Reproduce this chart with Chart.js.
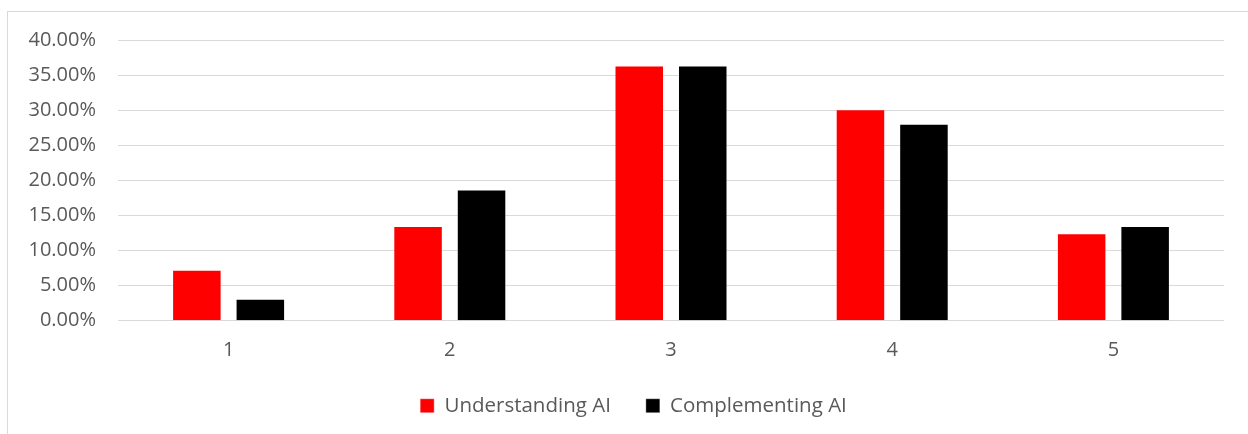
<!DOCTYPE html>
<html>
<head>
<meta charset="utf-8">
<script src="https://cdn.jsdelivr.net/npm/chart.js@4"></script>
<style>
  html, body { margin: 0; padding: 0; background: #ffffff; overflow: hidden; }
  body { width: 1248px; height: 434px; position: relative; }
  #frame {
    position: absolute; left: 7px; top: 11px;
    width: 1241px; height: 423px;
    border-left: 1px solid #d9d9d9; border-top: 1px solid #d9d9d9;
    overflow: hidden;
  }
  #chart { display: block; }
</style>
</head>
<body>
<div id="frame"><canvas id="chart" width="1240" height="414"></canvas></div>
<script>
// Response categories (rating 1–5)
const categories = ['1', '2', '3', '4', '5'];
// Share of respondents per rating, in percent
const understandingAI = [7.29, 13.54, 36.46, 30.21, 12.50];
const complementingAI = [3.13, 18.75, 36.46, 28.13, 13.54];
// Y axis range and step, in percent
const yMin = 0;
const yMax = 40;
const yStep = 5;

const textColor = '#595959';
const gridColor = '#d9d9d9';
const fontFamily = '"Open Sans", "Liberation Sans", sans-serif';

// Nudge the bottom legend a little to the right of the canvas centre
const legendOffset = {
  id: 'legendOffset',
  afterLayout(chart) {
    const lg = chart.legend;
    if (!lg) return;
    lg.left += 17.5;
    lg.right += 17.5;
  }
};

new Chart(document.getElementById('chart'), {
  type: 'bar',
  data: {
    labels: categories,
    datasets: [
      {
        label: 'Understanding AI',
        data: understandingAI,
        backgroundColor: '#ff0000',
        borderColor: 'rgba(255,255,255,0.35)',
        borderWidth: 1,
        categoryPercentage: 0.574,
        barPercentage: 0.78
      },
      {
        label: 'Complementing AI',
        data: complementingAI,
        backgroundColor: '#000000',
        borderColor: 'rgba(255,255,255,0.35)',
        borderWidth: 1,
        categoryPercentage: 0.574,
        barPercentage: 0.78
      }
    ]
  },
  plugins: [legendOffset],
  options: {
    responsive: false,
    animation: false,
    layout: { padding: { top: 28.7, right: 24, bottom: 0, left: 0 } },
    plugins: {
      tooltip: { enabled: false },
      legend: {
        position: 'bottom',
        labels: {
          boxWidth: 14,
          boxHeight: 14,
          padding: 35,
          color: textColor,
          font: { family: fontFamily, size: 20.5 }
        }
      }
    },
    scales: {
      x: {
        grid: { display: false, drawTicks: false },
        border: { display: false },
        ticks: {
          color: textColor,
          padding: 18,
          font: { family: fontFamily, size: 20 }
        },
        afterFit(scale) { scale.height = 39.8; }
      },
      y: {
        min: yMin,
        max: yMax,
        grid: { color: gridColor, lineWidth: 1, drawTicks: false },
        border: { display: false },
        ticks: {
          stepSize: yStep,
          color: textColor,
          padding: 22,
          font: { family: fontFamily, size: 20 },
          callback: (v) => Number(v).toFixed(2) + '%'
        },
        afterFit(scale) {
          scale.width = 110;
          // plot edges are set by the layout padding, not by label overhang
          scale.paddingTop = 0;
          scale.paddingBottom = 0;
        }
      }
    }
  }
});
</script>
</body>
</html>
